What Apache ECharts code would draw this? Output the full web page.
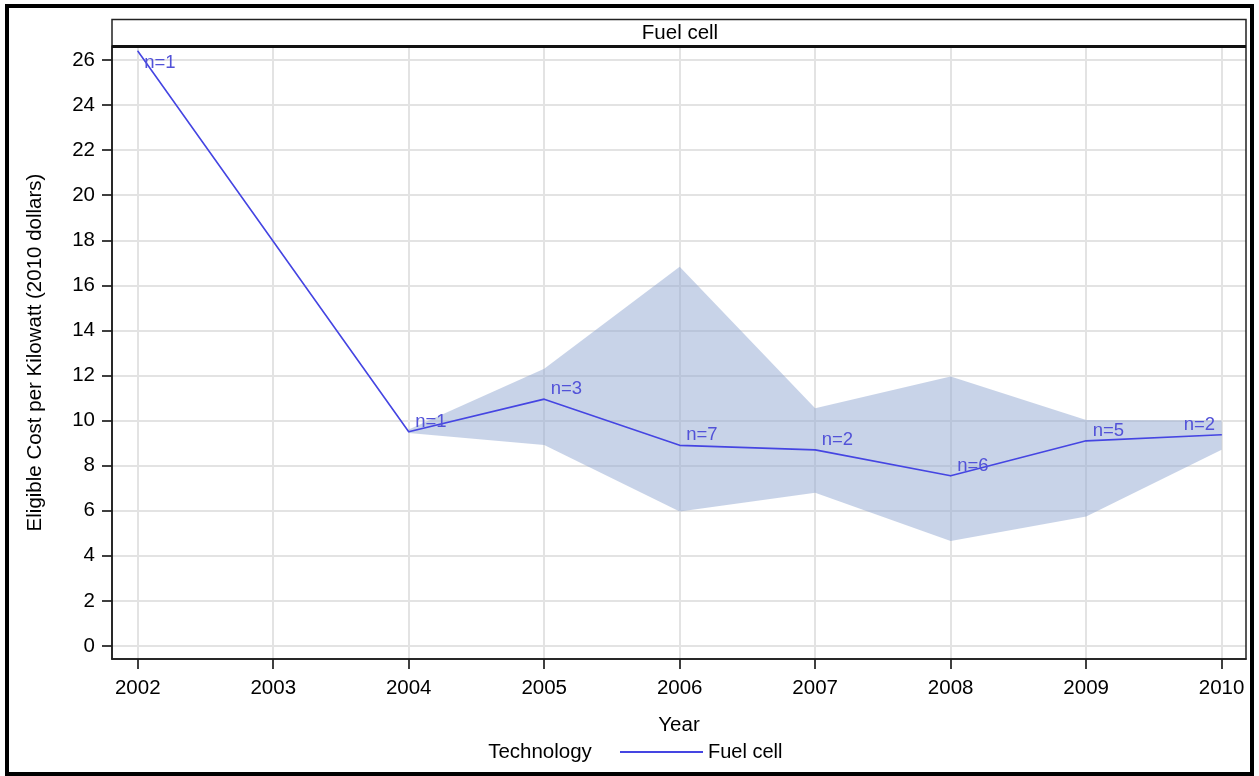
<!DOCTYPE html>
<html>
<head>
<meta charset="utf-8">
<script src="https://cdn.jsdelivr.net/npm/echarts@6/dist/echarts.min.js"></script>
<style>
  html, body { margin: 0; padding: 0; background: #fff; }
  #chart { width: 1259px; height: 776px; }
</style>
</head>
<body>
<div id="chart"></div>
<script>
// Fuel cell: eligible cost per kilowatt by year (2010 dollars)
const years = [2002, 2004, 2005, 2006, 2007, 2008, 2009, 2010];
const meanCost = [26.4, 9.5, 10.95, 8.9, 8.7, 7.55, 9.1, 9.37];
const sampleN = [1, 1, 3, 7, 2, 6, 5, 2];

// Spread band around the mean
const bandYears = [2004, 2005, 2006, 2007, 2008, 2009, 2010];
const bandLow = [9.45, 8.92, 5.96, 6.8, 4.66, 5.74, 8.7];
const bandHigh = [9.6, 12.3, 16.82, 10.55, 11.95, 10.03, 10.0];

const xTicks = [2002, 2003, 2004, 2005, 2006, 2007, 2008, 2009, 2010];
const yTicks = [0, 2, 4, 6, 8, 10, 12, 14, 16, 18, 20, 22, 24, 26];

const FONT = 'Liberation Sans, Arial, sans-serif';
const LINE_COLOR = '#4545e2';
const LABEL_COLOR = '#5252d8';
const BAND_COLOR = 'rgba(146,168,210,0.5)';
const TXT = 20.5;

const chart = echarts.init(document.getElementById('chart'), null, { renderer: 'canvas' });

const lineData = years.map((y, i) => {
  const item = { value: [y, meanCost[i]], n: sampleN[i] };
  if (i === 0) {
    item.label = { position: 'right', offset: [0, 12] };
  } else if (i === years.length - 1) {
    item.label = { position: 'left', offset: [0, -10] };
  }
  return item;
});

// band polygon: upper edge left-to-right, lower edge back
function renderBand(params, api) {
  if (params.dataIndex !== 0) return null;
  const pts = [];
  for (let i = 0; i < bandYears.length; i++) pts.push(api.coord([bandYears[i], bandHigh[i]]));
  for (let i = bandYears.length - 1; i >= 0; i--) pts.push(api.coord([bandYears[i], bandLow[i]]));
  return {
    type: 'polygon',
    shape: { points: pts },
    style: { fill: BAND_COLOR, stroke: null },
    silent: true
  };
}

const option = {
  animation: false,
  backgroundColor: '#fff',
  textStyle: { fontFamily: FONT },
  grid: { left: 112, right: 13, top: 46, bottom: 117, containLabel: false },
  xAxis: {
    type: 'value',
    min: 2001.81,
    max: 2010.18,
    name: 'Year',
    nameLocation: 'middle',
    nameGap: 56,
    nameTextStyle: { fontSize: TXT, color: '#000', fontFamily: FONT },
    axisLine: { show: true, onZero: false, lineStyle: { color: '#000', width: 1.5 } },
    axisTick: { show: true, length: 10, customValues: xTicks, lineStyle: { color: '#000', width: 1.5 } },
    axisLabel: { customValues: xTicks, fontSize: TXT, color: '#000', margin: 19, fontFamily: FONT,
                 formatter: v => String(v) },
    splitLine: { show: true, lineStyle: { color: '#e3e3e3', width: 2 } }
  },
  yAxis: {
    type: 'value',
    min: -0.58,
    max: 26.62,
    name: 'Eligible Cost per Kilowatt (2010 dollars)',
    nameLocation: 'middle',
    nameGap: 66,
    nameRotate: 90,
    nameTextStyle: { fontSize: TXT, color: '#000', fontFamily: FONT },
    axisLine: { show: true, onZero: false, lineStyle: { color: '#000', width: 1.5 } },
    axisTick: { show: true, length: 10, customValues: yTicks, lineStyle: { color: '#000', width: 1.5 } },
    axisLabel: { customValues: yTicks, fontSize: TXT, color: '#000', margin: 17, fontFamily: FONT,
                 formatter: v => String(v) },
    splitLine: { show: true, lineStyle: { color: '#e3e3e3', width: 2 } }
  },
  legend: {
    show: true,
    data: [{ name: 'Fuel cell', icon: 'rect' }],
    left: 615,
    top: 737,
    itemWidth: 83,
    itemHeight: 2,
    itemGap: 8,
    textStyle: { fontSize: 20, color: '#000', fontFamily: FONT }
  },
  graphic: [
    // outer frame
    { type: 'rect', shape: { x: 7, y: 6, width: 1245, height: 768 },
      style: { fill: null, stroke: '#000', lineWidth: 4 }, z: 100 },
    // plot frame
    { type: 'rect', shape: { x: 112, y: 19.5, width: 1134, height: 639.5 },
      style: { fill: null, stroke: '#222', lineWidth: 1.5 }, z: 100 },
    // header separator
    { type: 'line', shape: { x1: 112, y1: 46.5, x2: 1246, y2: 46.5 },
      style: { stroke: '#111', lineWidth: 3 }, z: 100 },
    { type: 'text', x: 680, y: 33, z: 100,
      style: { text: 'Fuel cell', fontSize: TXT, fontFamily: FONT, fill: '#000',
               align: 'center', verticalAlign: 'middle' } },
    { type: 'text', x: 540, y: 752, z: 100,
      style: { text: 'Technology', fontSize: TXT, fontFamily: FONT, fill: '#000',
               align: 'center', verticalAlign: 'middle' } }
  ],
  series: [
    {
      name: 'band',
      type: 'custom',
      renderItem: renderBand,
      data: bandYears.map((y, i) => [y, bandLow[i], bandHigh[i]]),
      encode: { x: 0, y: [1, 2] },
      silent: true,
      z: 1
    },
    {
      name: 'Fuel cell',
      type: 'line',
      data: lineData,
      symbol: 'circle',
      symbolSize: 1,
      showSymbol: true,
      color: LINE_COLOR,
      itemStyle: { color: LINE_COLOR },
      lineStyle: { color: LINE_COLOR, width: 1.6 },
      label: {
        show: true,
        position: 'right',
        distance: 6,
        offset: [0, -10],
        fontSize: 18.5,
        fontFamily: FONT,
        color: LABEL_COLOR,
        formatter: p => 'n=' + p.data.n
      },
      z: 3
    }
  ]
};

chart.setOption(option);
</script>
</body>
</html>
